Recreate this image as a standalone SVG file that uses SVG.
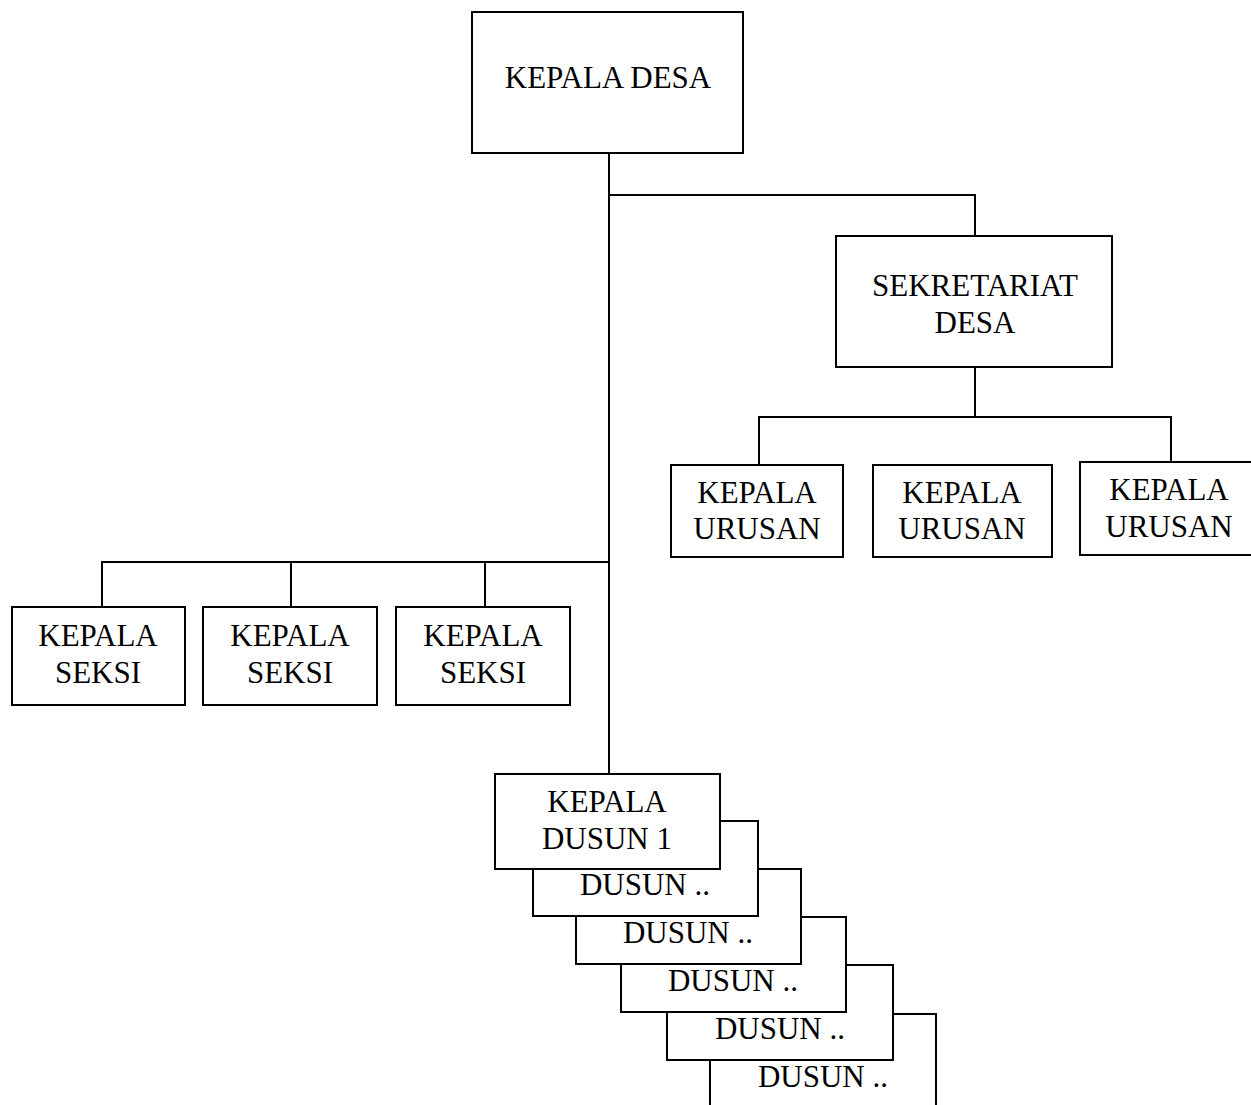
<svg xmlns="http://www.w3.org/2000/svg" width="1251" height="1105" viewBox="0 0 1251 1105">
<style>
.box{fill:#fff;stroke:#000;stroke-width:2}
.ln{fill:none;stroke:#000;stroke-width:2}
text{font-family:"Liberation Serif","Times New Roman",serif;font-size:31px;fill:#000;text-anchor:middle}
</style>
<rect width="1251" height="1105" fill="#fff"/>
<g id="connectors">
<path class="ln" d="M609,153 V775"/>
<path class="ln" d="M609,195 H975 V236"/>
<path class="ln" d="M975,367 V417"/>
<path class="ln" d="M759,465 V417 H1171 V462"/>
<path class="ln" d="M102,607 V562 H609"/>
<path class="ln" d="M291,562 V607"/>
<path class="ln" d="M485,562 V607"/>
</g>
<g id="kepala-desa">
<rect class="box" x="472" y="12" width="271" height="141"/>
<text x="608" y="88">KEPALA DESA</text>
</g>
<g id="sekretariat-desa">
<rect class="box" x="836" y="236" width="276" height="131"/>
<text x="975" y="296">SEKRETARIAT</text>
<text x="975" y="333">DESA</text>
</g>
<g id="kepala-urusan-1">
<rect class="box" x="671" y="465" width="172" height="92"/>
<text x="757" y="503">KEPALA</text>
<text x="757" y="539">URUSAN</text>
</g>
<g id="kepala-urusan-2">
<rect class="box" x="873" y="465" width="179" height="92"/>
<text x="962" y="503">KEPALA</text>
<text x="962" y="539">URUSAN</text>
</g>
<g id="kepala-urusan-3">
<rect class="box" x="1080" y="462" width="172" height="93"/>
<text x="1169" y="500">KEPALA</text>
<text x="1169" y="537">URUSAN</text>
</g>
<g id="kepala-seksi-1">
<rect class="box" x="12" y="607" width="173" height="98"/>
<text x="98" y="646">KEPALA</text>
<text x="98" y="683">SEKSI</text>
</g>
<g id="kepala-seksi-2">
<rect class="box" x="203" y="607" width="174" height="98"/>
<text x="290" y="646">KEPALA</text>
<text x="290" y="683">SEKSI</text>
</g>
<g id="kepala-seksi-3">
<rect class="box" x="396" y="607" width="174" height="98"/>
<text x="483" y="646">KEPALA</text>
<text x="483" y="683">SEKSI</text>
</g>
<g id="dusun-6">
<rect class="box" x="710" y="1014" width="226" height="120"/>
<text x="823" y="1087">DUSUN ..</text>
</g>
<g id="dusun-5">
<rect class="box" x="667" y="965" width="226" height="95"/>
<text x="780" y="1039">DUSUN ..</text>
</g>
<g id="dusun-4">
<rect class="box" x="621" y="917" width="225" height="95"/>
<text x="733" y="991">DUSUN ..</text>
</g>
<g id="dusun-3">
<rect class="box" x="576" y="869" width="225" height="95"/>
<text x="688" y="943">DUSUN ..</text>
</g>
<g id="dusun-2">
<rect class="box" x="533" y="821" width="225" height="95"/>
<text x="645" y="895">DUSUN ..</text>
</g>
<g id="kepala-dusun-1">
<rect class="box" x="495" y="774" width="225" height="95"/>
<text x="607" y="812">KEPALA</text>
<text x="607" y="849">DUSUN 1</text>
</g>
</svg>
